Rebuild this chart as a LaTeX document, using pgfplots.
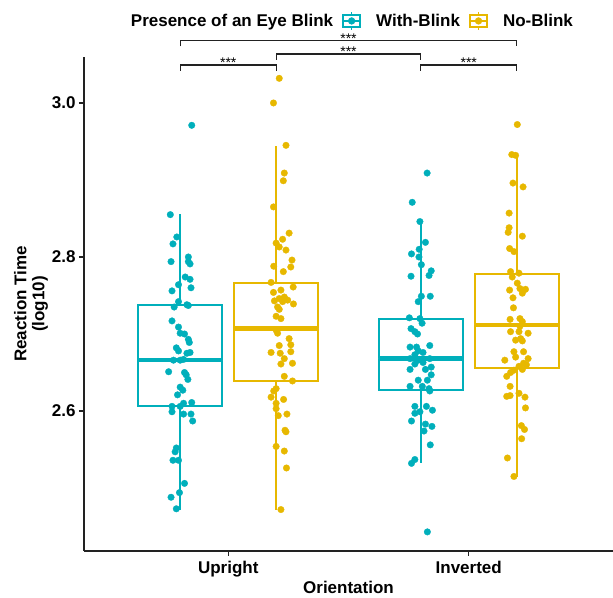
\documentclass[border=0pt]{standalone}
\usepackage{fontspec}
\setmainfont{Liberation Sans}
\usepackage{pgfplots}
\pgfplotsset{compat=1.18}
\usepgfplotslibrary{statistics}
\definecolor{cteal}{HTML}{00AFBB}
\definecolor{cgold}{HTML}{E7B800}
\definecolor{axgray}{HTML}{222222}
\pgfplotsset{
  bkey/.style={legend image code/.code={
    \draw[#1, line width=1.6pt] (0pt,-6pt) rectangle (17pt,6pt);
    \draw[#1, line width=1.6pt] (8.5pt,-9pt)--(8.5pt,-6pt) (8.5pt,6pt)--(8.5pt,9pt);
    \draw[#1, line width=2pt] (0pt,0pt)--(17pt,0pt);
    \fill[#1] (8.5pt,0pt) circle (3.4pt);}},
  bx/.style={boxplot prepared={#1, box extend=0.35, whisker extend=0},
    line width=2pt, solid, fill=white, mark=none,
    boxplot/every median/.style={line width=4.5pt}},
  pts/.style={only marks, color=#1, mark=*, mark size=3.3pt, mark options={draw=#1, fill=#1, line width=0.3pt}},
}
\begin{document}
\begin{tikzpicture}[x=1pt,y=1pt]
\useasboundingbox (0,0) rectangle (613,597);
\begin{axis}[
  at={(84pt,46pt)}, anchor=south west,
  scale only axis, width=529pt, height=494pt,
  xmin=0.4, xmax=2.6, ymin=2.4182, ymax=3.0597,
  axis x line*=bottom, axis y line*=left,
  axis line style={draw=axgray, line width=1.4pt, -},
  tick style={draw=axgray, line width=1.4pt},
  tick align=outside, major tick length=5pt,
  xtick={1,2}, xticklabels={Upright,Inverted},
  ytick={2.6,2.8,3.0},
  yticklabel style={/pgf/number format/.cd, fixed, fixed zerofill, precision=1},
  /pgf/number format/assume math mode=true,
  ticklabel style={font=\fontsize{17}{20}\selectfont\bfseries, text=black},
  xticklabel style={yshift=-2pt},
  label style={font=\fontsize{17}{18}\selectfont\bfseries, text=black},
  xlabel={Orientation},
  ylabel={Reaction Time\\(log10)},
  ylabel style={align=center, at={(axis description cs:-0.100,0.5)}, anchor=center},
  xlabel style={at={(axis description cs:0.5,-0.086)}, anchor=base, inner sep=0pt},
  clip=false,
  boxplot/draw direction=y,
  legend columns=-1,
  legend style={at={(axis description cs:0.060,1.0730)}, anchor=west, draw=none, fill=none,
    font=\fontsize{17}{20}\selectfont\bfseries, inner sep=0pt,
    /tikz/every even column/.append style={column sep=8pt},
    /tikz/every odd column/.append style={column sep=14pt},
    nodes={inner sep=1pt}},
]
\addlegendimage{empty legend}
\addlegendentry{Presence of an Eye Blink}
\addlegendimage{bkey=cteal}
\addlegendentry{With-Blink}
\addlegendimage{bkey=cgold}
\addlegendentry{No-Blink}

\addplot[bx={draw position=0.8, median=2.6662, upper quartile=2.7377, lower quartile=2.6069, upper whisker=2.8558, lower whisker=2.4714}, draw=cteal, forget plot] coordinates {};
\addplot[bx={draw position=1.2, median=2.7074, upper quartile=2.7658, lower quartile=2.6390, upper whisker=2.9445, lower whisker=2.4714}, draw=cgold, forget plot] coordinates {};
\addplot[bx={draw position=1.8, median=2.6684, upper quartile=2.7195, lower quartile=2.6273, upper whisker=2.8438, lower whisker=2.5329}, draw=cteal, forget plot] coordinates {};
\addplot[bx={draw position=2.2, median=2.7117, upper quartile=2.7775, lower quartile=2.6555, upper whisker=2.9325, lower whisker=2.5147}, draw=cgold, forget plot] coordinates {};

% Upright, With-Blink
\addplot[pts=cteal, forget plot] coordinates {
(0.848,2.971) (0.759,2.855) (0.786,2.826) (0.770,2.817) (0.834,2.800) (0.762,2.794)
(0.841,2.791) (0.834,2.794) (0.821,2.774) (0.841,2.771) (0.766,2.756) (0.793,2.764)
(0.845,2.760) (0.793,2.742) (0.775,2.735) (0.828,2.738) (0.834,2.737) (0.766,2.717)
(0.793,2.709) (0.800,2.701) (0.818,2.700) (0.834,2.693) (0.838,2.689) (0.784,2.682)
(0.793,2.678) (0.841,2.676) (0.828,2.675) (0.772,2.666) (0.800,2.666) (0.814,2.667)
(0.752,2.651) (0.818,2.650) (0.825,2.647) (0.832,2.641) (0.800,2.631) (0.811,2.627)
(0.789,2.621) (0.766,2.606) (0.814,2.610) (0.800,2.606) (0.848,2.611) (0.766,2.599)
(0.814,2.596) (0.845,2.596) (0.852,2.587) (0.784,2.552) (0.779,2.547) (0.770,2.536)
(0.793,2.536) (0.818,2.506) (0.797,2.494) (0.762,2.488) (0.784,2.473)
};
% Upright, No-Blink
\addplot[pts=cgold, forget plot] coordinates {
(1.212,3.032) (1.188,3.000) (1.240,2.945) (1.233,2.909) (1.229,2.899) (1.188,2.865)
(1.253,2.831) (1.226,2.823) (1.199,2.818) (1.212,2.813) (1.240,2.809) (1.265,2.796)
(1.189,2.788) (1.260,2.787) (1.229,2.781) (1.178,2.767) (1.270,2.761) (1.188,2.754)
(1.219,2.757) (1.212,2.746) (1.233,2.748) (1.192,2.743) (1.247,2.744) (1.226,2.742)
(1.271,2.739) (1.205,2.735) (1.212,2.732) (1.199,2.723) (1.219,2.720) (1.199,2.705)
(1.205,2.701) (1.253,2.694) (1.260,2.686) (1.212,2.685) (1.178,2.676) (1.260,2.677)
(1.216,2.675) (1.233,2.668) (1.219,2.661) (1.267,2.662) (1.233,2.645) (1.267,2.639)
(1.199,2.629) (1.189,2.626) (1.178,2.618) (1.230,2.615) (1.199,2.610) (1.199,2.603)
(1.208,2.594) (1.244,2.596) (1.236,2.575) (1.240,2.573) (1.199,2.554) (1.233,2.548)
(1.242,2.526) (1.219,2.472)
};
% Inverted, With-Blink
\addplot[pts=cteal, forget plot] coordinates {
(1.827,2.909) (1.765,2.871) (1.797,2.846) (1.820,2.819) (1.794,2.810) (1.762,2.804)
(1.793,2.800) (1.803,2.790) (1.844,2.782) (1.760,2.775) (1.835,2.776) (1.803,2.749)
(1.840,2.749) (1.790,2.742) (1.753,2.721) (1.797,2.720) (1.806,2.714) (1.760,2.707)
(1.776,2.703) (1.787,2.700) (1.838,2.685) (1.756,2.683) (1.783,2.683) (1.810,2.676)
(1.776,2.673) (1.756,2.668) (1.790,2.666) (1.838,2.668) (1.810,2.663) (1.776,2.661)
(1.844,2.657) (1.756,2.654) (1.844,2.647) (1.790,2.640) (1.828,2.640) (1.756,2.632)
(1.807,2.632) (1.835,2.629) (1.838,2.626) (1.776,2.606) (1.824,2.606) (1.849,2.601)
(1.776,2.597) (1.797,2.599) (1.762,2.587) (1.820,2.583) (1.847,2.580) (1.814,2.574)
(1.840,2.556) (1.776,2.537) (1.762,2.532) (1.828,2.443) (1.790,2.678) (1.820,2.654)
};
% Inverted, No-Blink
\addplot[pts=cgold, forget plot] coordinates {
(2.202,2.972) (2.179,2.933) (2.195,2.932) (2.184,2.896) (2.226,2.891) (2.168,2.857)
(2.168,2.838) (2.164,2.832) (2.223,2.827) (2.170,2.811) (2.188,2.807) (2.174,2.781)
(2.209,2.779) (2.181,2.774) (2.202,2.766) (2.213,2.759) (2.236,2.758) (2.170,2.757)
(2.223,2.753) (2.184,2.747) (2.186,2.734) (2.172,2.719) (2.213,2.720) (2.223,2.716)
(2.213,2.710) (2.174,2.703) (2.209,2.703) (2.247,2.701) (2.195,2.692) (2.216,2.694)
(2.223,2.691) (2.188,2.677) (2.228,2.677) (2.195,2.670) (2.150,2.666) (2.247,2.668)
(2.228,2.662) (2.209,2.658) (2.240,2.660) (2.188,2.653) (2.174,2.650) (2.223,2.654)
(2.158,2.645) (2.172,2.632) (2.209,2.623) (2.158,2.619) (2.172,2.620) (2.234,2.618)
(2.236,2.604) (2.219,2.581) (2.232,2.576) (2.220,2.564) (2.161,2.539) (2.188,2.515)
};

% significance brackets
\draw[axgray, line width=1.3pt] (axis cs:0.8,3.0416) -- (axis cs:0.8,3.0494) -- (axis cs:1.2,3.0494) -- (axis cs:1.2,3.0416);
\draw[axgray, line width=1.3pt] (axis cs:1.8,3.0416) -- (axis cs:1.8,3.0494) -- (axis cs:2.2,3.0494) -- (axis cs:2.2,3.0416);
\draw[axgray, line width=1.3pt] (axis cs:1.2,3.0558) -- (axis cs:1.2,3.0636) -- (axis cs:1.8,3.0636) -- (axis cs:1.8,3.0558);
\draw[axgray, line width=1.3pt] (axis cs:0.8,3.0734) -- (axis cs:0.8,3.0809) -- (axis cs:2.2,3.0809) -- (axis cs:2.2,3.0734);
\node[font=\fontsize{14}{14}\selectfont, anchor=base, inner sep=0pt, yshift=-2.8pt] at (axis cs:1.0,3.0494) {***};
\node[font=\fontsize{14}{14}\selectfont, anchor=base, inner sep=0pt, yshift=-2.8pt] at (axis cs:2.0,3.0494) {***};
\node[font=\fontsize{14}{14}\selectfont, anchor=base, inner sep=0pt, yshift=-2.8pt] at (axis cs:1.5,3.0636) {***};
\node[font=\fontsize{14}{14}\selectfont, anchor=base, inner sep=0pt, yshift=-2.8pt] at (axis cs:1.5,3.0809) {***};
\end{axis}
\end{tikzpicture}
\end{document}
